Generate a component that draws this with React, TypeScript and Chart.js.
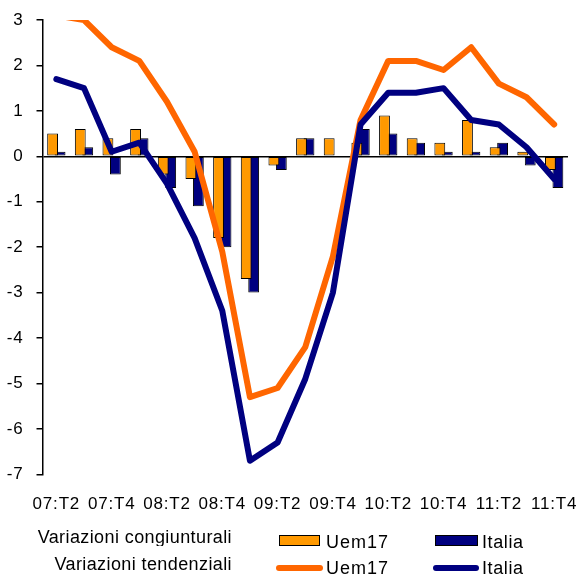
import React, { useEffect, useRef } from 'react';
import { Chart, registerables } from 'chart.js';

Chart.register(...registerables);

// ---- data ----
const categories = [
  '07:T2', '07:T3', '07:T4', '08:T1', '08:T2', '08:T3', '08:T4', '09:T1', '09:T2', '09:T3',
  '09:T4', '10:T1', '10:T2', '10:T3', '10:T4', '11:T1', '11:T2', '11:T3', '11:T4',
];
const shownTickLabels = ['07:T2', '07:T4', '08:T2', '08:T4', '09:T2', '09:T4', '10:T2', '10:T4', '11:T2', '11:T4'];
const yTicks = [3, 2, 1, 0, -1, -2, -3, -4, -5, -6, -7];

const congUem17 = [0.5, 0.6, 0.4, 0.6, -0.4, -0.5, -1.8, -2.7, -0.2, 0.4, 0.4, 0.3, 0.9, 0.4, 0.3, 0.8, 0.2, 0.1, -0.3];
const congItalia = [0.1, 0.2, -0.4, 0.4, -0.7, -1.1, -2.0, -3.0, -0.3, 0.4, 0, 0.6, 0.5, 0.3, 0.1, 0.1, 0.3, -0.2, -0.7];
const tendUem17 = [3.1, 3.0, 2.4, 2.1, 1.2, 0.1, -2.1, -5.3, -5.1, -4.2, -2.2, 0.8, 2.1, 2.1, 1.9, 2.4, 1.6, 1.3, 0.7];
const tendItalia = [1.7, 1.5, 0.1, 0.3, -0.6, -1.8, -3.4, -6.7, -6.3, -4.9, -3.0, 0.7, 1.4, 1.4, 1.5, 0.8, 0.7, 0.2, -0.5];

const groupNames = ['Variazioni congiunturali', 'Variazioni tendenziali'];
const seriesNames = ['Uem17', 'Italia'];

// ---- styles ----
const ORANGE_BAR = '#FF9900';
const ORANGE_LINE = '#FF6600';
const NAVY = '#000080';
const FONT = "'Liberation Sans', Arial, sans-serif";

const spacingPlugin = {
  id: 'letterSpacing',
  beforeUpdate(chart: any) {
    chart.ctx.letterSpacing = '0.8px';
  },
  beforeDraw(chart: any) {
    chart.ctx.letterSpacing = '0.8px';
  },
};

function ChartCanvas() {
  const ref = useRef<HTMLCanvasElement | null>(null);
  useEffect(() => {
    if (!ref.current) return;
    const chart = new Chart(ref.current, {
      type: 'bar',
      data: {
        labels: categories,
        datasets: [
          {
            type: 'line',
            label: 'Italia tend',
            data: tendItalia,
            borderColor: NAVY,
            backgroundColor: NAVY,
            borderWidth: 6,
            pointRadius: 0,
            tension: 0,
            fill: false,
            borderCapStyle: 'round',
            borderJoinStyle: 'round',
            clip: 0,
            order: 0,
          } as any,
          {
            type: 'line',
            label: 'Uem17 tend',
            data: tendUem17,
            borderColor: ORANGE_LINE,
            backgroundColor: ORANGE_LINE,
            borderWidth: 6,
            pointRadius: 0,
            tension: 0,
            fill: false,
            borderCapStyle: 'round',
            borderJoinStyle: 'round',
            clip: 0,
            order: 1,
          } as any,
          {
            type: 'bar',
            label: 'Uem17 cong',
            data: congUem17,
            backgroundColor: ORANGE_BAR,
            borderColor: '#000',
            borderWidth: 1,
            borderSkipped: false,
            barPercentage: 1.45,
            categoryPercentage: 0.54,
            order: 2,
          } as any,
          {
            type: 'bar',
            label: 'Italia cong',
            data: congItalia,
            backgroundColor: NAVY,
            borderColor: '#000',
            borderWidth: 1,
            borderSkipped: false,
            barPercentage: 1.45,
            categoryPercentage: 0.54,
            order: 3,
          } as any,
        ],
      },
      options: {
        responsive: false,
        animation: false,
        devicePixelRatio: 1,
        layout: { padding: { left: -6.2, right: 12, top: 20, bottom: 41.3 } },
        plugins: { legend: { display: false }, tooltip: { enabled: false } },
        scales: {
          x: {
            offset: true,
            grid: { display: false, drawTicks: false },
            border: { display: false },
            ticks: {
              autoSkip: false,
              maxRotation: 0,
              minRotation: 0,
              padding: 0,
              color: '#000',
              font: { family: FONT, size: 17, lineHeight: 3.55 },
              callback: (_v: any, i: number) =>
                shownTickLabels.includes(categories[i]) ? categories[i] : '',
            },
          },
          y: {
            min: yTicks[yTicks.length - 1],
            max: yTicks[0],
            afterBuildTicks: (axis: any) => {
              axis.ticks = yTicks.map((v) => ({ value: v }));
            },
            ticks: {
              padding: 13,
              color: '#000',
              font: { family: FONT, size: 17, lineHeight: 0.6 },
            },
            grid: {
              color: (ctx: any) => (ctx.tick && ctx.tick.value === 0 ? '#000' : 'rgba(0,0,0,0)'),
              lineWidth: 1.5,
              tickColor: '#000',
              tickLength: 6,
              drawTicks: true,
            },
            border: { display: true, color: '#000', width: 1.5 },
          },
        },
      },
      plugins: [spacingPlugin],
    } as any);
    return () => chart.destroy();
  }, []);
  return <canvas ref={ref} width={580} height={576} style={{ position: 'absolute', left: 0, top: 0 }} />;
}

const legendText: React.CSSProperties = {
  position: 'absolute',
  fontFamily: FONT,
  fontSize: 18,
  lineHeight: '18px',
  color: '#000',
  whiteSpace: 'nowrap',
};

export default function App() {
  return (
    <div style={{ position: 'fixed', left: 0, top: 0, width: 580, height: 576, background: '#fff', overflow: 'hidden' }}>
      <ChartCanvas />
      {/* row 1 */}
      <div style={{ ...legendText, left: 0, width: 232, textAlign: 'right', top: 528, height: 17.5, overflow: 'hidden', letterSpacing: '0.4px' }}>
        {groupNames[0]}
      </div>
      <div style={{ position: 'absolute', left: 279, top: 535, width: 41, height: 11, boxSizing: 'border-box', border: '1px solid #000', background: ORANGE_BAR }} />
      <div style={{ ...legendText, left: 326, top: 532.5, letterSpacing: '1px' }}>{seriesNames[0]}</div>
      <div style={{ position: 'absolute', left: 435, top: 535, width: 43, height: 11, boxSizing: 'border-box', border: '1px solid #000', background: NAVY }} />
      <div style={{ ...legendText, left: 482, top: 532.5, letterSpacing: '0.6px' }}>{seriesNames[1]}</div>
      {/* row 2 */}
      <div style={{ ...legendText, left: 0, width: 232, textAlign: 'right', top: 555, letterSpacing: '0.4px' }}>
        {groupNames[1]}
      </div>
      <div style={{ position: 'absolute', left: 276, top: 564.5, width: 47, height: 6, borderRadius: 3, background: ORANGE_LINE }} />
      <div style={{ ...legendText, left: 326, top: 559, letterSpacing: '1px' }}>{seriesNames[0]}</div>
      <div style={{ position: 'absolute', left: 433, top: 564.5, width: 46, height: 6, borderRadius: 3, background: NAVY }} />
      <div style={{ ...legendText, left: 482, top: 559, letterSpacing: '0.6px' }}>{seriesNames[1]}</div>
    </div>
  );
}
